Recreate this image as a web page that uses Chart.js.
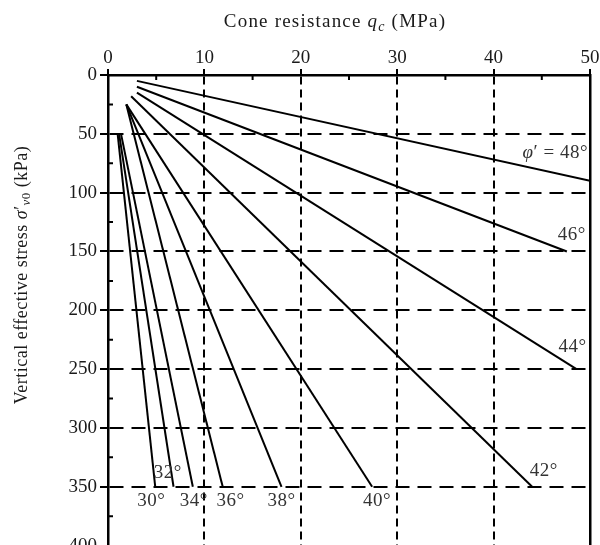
<!DOCTYPE html>
<html>
<head>
<meta charset="utf-8">
<script src="https://cdn.jsdelivr.net/npm/chart.js@4/dist/chart.umd.min.js"></script>
<style>
  html, body { margin: 0; padding: 0; background: #fff; overflow: hidden; }
  #wrap { width: 600px; height: 545px; overflow: hidden; }
</style>
</head>
<body>
<div id="wrap"><canvas id="chart" width="600" height="560"></canvas></div>
<script>
'use strict';
// friction angle of each line (deg)
const phiAngles = [30, 32, 34, 36, 38, 40, 42, 44, 46, 48];
// start point of each line: qc (MPa), sigma'v0 (kPa)
const qcStart = [1.0, 1.15, 1.35, 1.9, 1.9, 1.9, 2.4, 3.0, 3.0, 3.0];
const sigmaStart = [50, 50, 50, 25, 25, 25, 18, 15, 10, 5];
// end point of each line
const qcEnd = [4.9, 6.8, 8.8, 11.9, 18.0, 27.4, 44.0, 48.6, 47.6, 50.0];
const sigmaEnd = [350, 350, 350, 350, 350, 350, 350, 250, 150, 90];
// axis ticks
const qcTicks = [0, 10, 20, 30, 40, 50];
const sigmaTicks = [0, 50, 100, 150, 200, 250, 300, 350, 400];

// where the angle labels sit (data units), kept apart from the data
const labelQc = [4.5, 6.2, 8.9, 12.7, 18.0, 27.9, 45.2, 48.2, 48.1, 46.4];
const labelSigma = [362, 338, 362, 362, 362, 362, 337, 231, 136, 66];

const FONT = '"Liberation Serif", "DejaVu Serif", serif';
const INK = '#1a1a1a';

let datasets = [];
for (let i = 0; i < phiAngles.length; i++) {
  datasets.push({
    label: phiAngles[i] + '°',
    data: [{x: qcStart[i], y: sigmaStart[i]}, {x: qcEnd[i], y: sigmaEnd[i]}],
    showLine: true,
    borderColor: '#000',
    borderWidth: 2,
    pointRadius: 0,
    fill: false
  });
}

// draw text made of parts: [text, style] with style '', 'i', 'sub', 'isub'
function fontFor(style, size) {
  let s = style.indexOf('sub') >= 0 ? Math.round(size * 0.72) : size;
  let it = style.indexOf('i') === 0 ? 'italic ' : '';
  return it + s + 'px ' + FONT;
}
function richWidth(ctx, parts, size) {
  let w = 0;
  for (const p of parts) {
    ctx.font = fontFor(p[1], size);
    w += ctx.measureText(p[0]).width;
  }
  return w;
}
function drawRich(ctx, parts, cx, cy, size, spacing) {
  ctx.letterSpacing = (spacing || 0) + 'px';
  let x = cx - richWidth(ctx, parts, size) / 2;
  ctx.textBaseline = 'middle';
  ctx.textAlign = 'left';
  for (const p of parts) {
    ctx.font = fontFor(p[1], size);
    let dy = p[1].indexOf('sub') >= 0 ? size * 0.28 : 0;
    ctx.fillText(p[0], x, cy + dy);
    x += ctx.measureText(p[0]).width;
  }
  ctx.letterSpacing = '0px';
}

const extras = {
  id: 'extras',
  afterDraw(chart) {
    const ctx = chart.ctx;
    const xs = chart.scales.x, ys = chart.scales.y;
    const area = chart.chartArea;
    ctx.save();
    ctx.fillStyle = INK;
    // axis titles
    drawRich(ctx, [['Cone resistance ', ''], ['q', 'i'], ['c', 'isub'], [' (MPa)', '']], 335, 22, 19, 1.2);
    ctx.save();
    ctx.translate(22, 275);
    ctx.rotate(-Math.PI / 2);
    drawRich(ctx, [['Vertical effective stress ', ''], ['σ', 'i'], ['′', ''], ['v', 'isub'], ['0', 'sub'], [' (kPa)', '']], 0, 0, 18, 0.5);
    ctx.restore();
    // minor ticks inside the frame
    ctx.strokeStyle = '#000';
    ctx.lineWidth = 2;
    ctx.beginPath();
    for (let v = 5; v < 50; v += 10) {
      let px = xs.getPixelForValue(v);
      ctx.moveTo(px, area.top);
      ctx.lineTo(px, area.top + 5);
    }
    for (let v = 25; v < 400; v += 50) {
      let py = ys.getPixelForValue(v);
      ctx.moveTo(area.left, py);
      ctx.lineTo(area.left + 5, py);
    }
    ctx.stroke();
    // angle labels
    ctx.fillStyle = '#333';
    for (let i = 0; i < phiAngles.length; i++) {
      let px = xs.getPixelForValue(labelQc[i]);
      let py = ys.getPixelForValue(labelSigma[i]);
      let parts = phiAngles[i] === 48
        ? [['φ', 'i'], ['′ = ' + phiAngles[i] + '°', '']]
        : [[phiAngles[i] + '°', '']];
      drawRich(ctx, parts, px, py, 19, 0.5);
    }
    ctx.restore();
  }
};

new Chart(document.getElementById('chart'), {
  type: 'scatter',
  data: {datasets: datasets},
  options: {
    responsive: false,
    animation: false,
    layout: {padding: {left: 0, right: 8, top: 0, bottom: 0}},
    plugins: {legend: {display: false}, tooltip: {enabled: false}},
    scales: {
      x: {
        position: 'top',
        min: 0, max: 50,
        afterBuildTicks: s => { s.ticks = qcTicks.map(v => ({value: v})); },
        afterFit: s => { s.height = 75; },
        ticks: {color: INK, font: {family: FONT, size: 19}, padding: 0, maxRotation: 0},
        grid: {
          color: ctx => (ctx.tick && (ctx.tick.value === 0 || ctx.tick.value === 50)) ? 'rgba(0,0,0,0)' : '#000',
          tickColor: '#000',
          lineWidth: 2,
          tickLength: 6
        },
        border: {display: true, color: '#000', width: 2.5, dash: [8, 5]}
      },
      y: {
        reverse: true,
        min: 0, max: 400,
        afterBuildTicks: s => { s.ticks = sigmaTicks.map(v => ({value: v})); },
        afterFit: s => { s.width = 108; },
        ticks: {color: INK, font: {family: FONT, size: 19}, padding: 3},
        grid: {
          color: ctx => (ctx.tick && (ctx.tick.value === 0 || ctx.tick.value === 400)) ? 'rgba(0,0,0,0)' : '#000',
          tickColor: '#000',
          lineWidth: 2,
          tickLength: 8
        },
        border: {display: true, color: '#000', width: 2.5, dash: [14, 8]}
      },
      y2: {
        position: 'right',
        min: 0, max: 400,
        reverse: true,
        afterFit: s => { s.width = 2; },
        ticks: {display: false},
        grid: {display: false},
        border: {display: true, color: '#000', width: 2.5}
      }
    }
  },
  plugins: [extras]
});
</script>
</body>
</html>
